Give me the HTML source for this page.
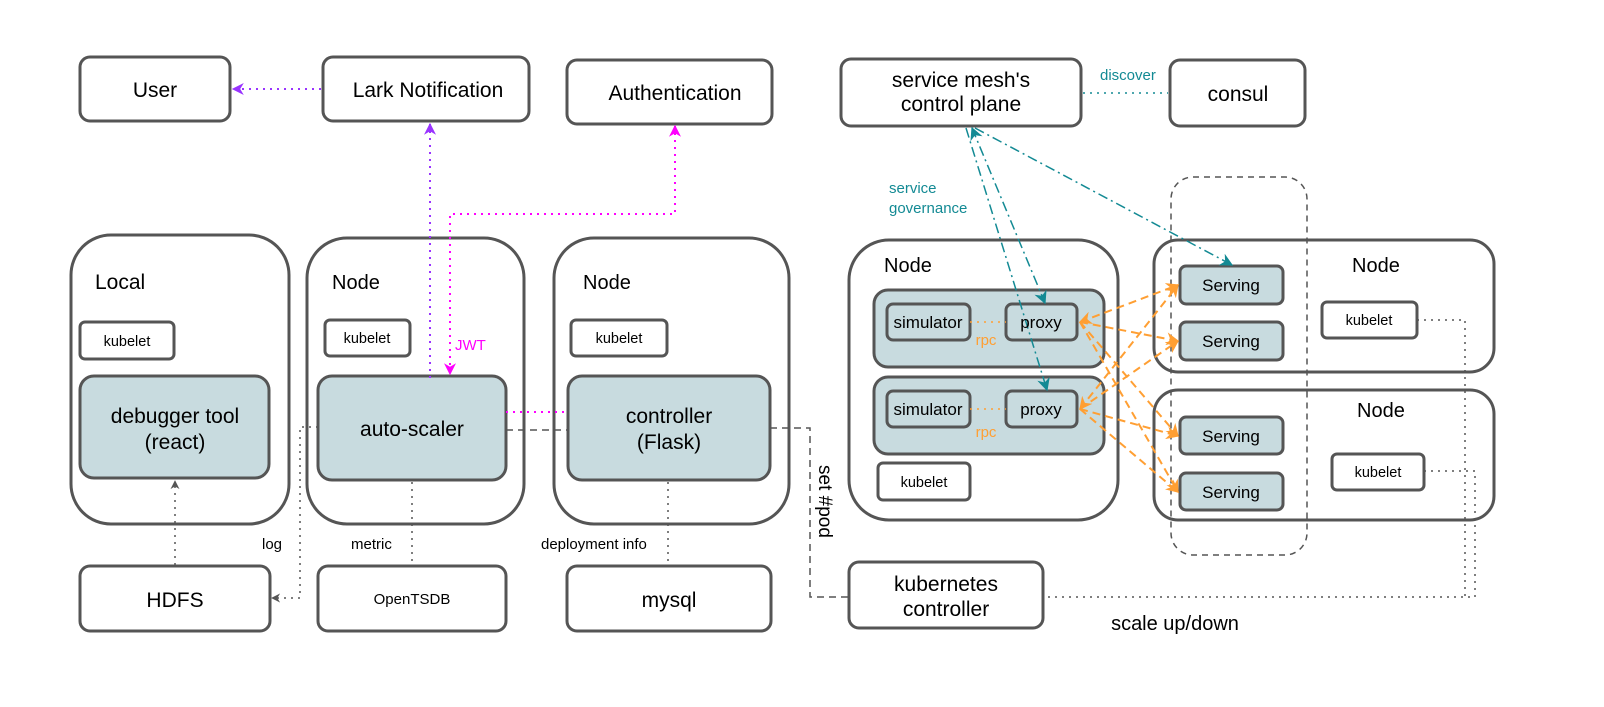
<!DOCTYPE html>
<html><head><meta charset="utf-8"><style>
html,body{margin:0;padding:0;background:#fff;}
svg{display:block;font-family:"Liberation Sans",Arial,sans-serif;}
</style></head><body>
<svg width="1604" height="707" viewBox="0 0 1604 707" xmlns="http://www.w3.org/2000/svg">
<defs>
<marker id="ag" viewBox="0 0 10 10" refX="9" refY="5" markerWidth="9" markerHeight="9" orient="auto-start-reverse" markerUnits="userSpaceOnUse"><path d="M0,0 L10,5 L0,10 L3,5 Z" fill="#555"/></marker>
<marker id="ap" viewBox="0 0 10 10" refX="9" refY="5" markerWidth="12" markerHeight="12" orient="auto-start-reverse" markerUnits="userSpaceOnUse"><path d="M0,0 L10,5 L0,10 L3,5 Z" fill="#9933ff"/></marker>
<marker id="am" viewBox="0 0 10 10" refX="9" refY="5" markerWidth="12" markerHeight="12" orient="auto-start-reverse" markerUnits="userSpaceOnUse"><path d="M0,0 L10,5 L0,10 L3,5 Z" fill="#ff00ff"/></marker>
<marker id="at" viewBox="0 0 10 10" refX="9" refY="5" markerWidth="13" markerHeight="13" orient="auto-start-reverse" markerUnits="userSpaceOnUse"><path d="M0,0 L10,5 L0,10 L3,5 Z" fill="#138a94"/></marker>
<marker id="ao" viewBox="0 0 10 10" refX="9" refY="5" markerWidth="13" markerHeight="13" orient="auto-start-reverse" markerUnits="userSpaceOnUse"><path d="M0,0 L10,5 L0,10 L3,5 Z" fill="#ff9f33"/></marker>
</defs>
<g fill="none" stroke="#555" stroke-width="3">
<rect x="80" y="57" width="150" height="64" rx="10" fill="#fff"/>
<rect x="323" y="57" width="206" height="64" rx="10" fill="#fff"/>
<rect x="567" y="60" width="205" height="64" rx="10" fill="#fff"/>
<rect x="841" y="59" width="240" height="67" rx="10" fill="#fff"/>
<rect x="1170" y="60" width="135" height="66" rx="10" fill="#fff"/>
<rect x="71" y="235" width="218" height="289" rx="40"/>
<rect x="307" y="238" width="217" height="286" rx="40"/>
<rect x="554" y="238" width="235" height="286" rx="40"/>
<rect x="849" y="240" width="269" height="280" rx="40"/>
<rect x="1154" y="240" width="340" height="132" rx="24"/>
<rect x="1154" y="390" width="340" height="130" rx="24"/>
<rect x="80" y="322" width="94" height="37" rx="5"/>
<rect x="325" y="320" width="85" height="36" rx="5"/>
<rect x="571" y="320" width="96" height="36" rx="5"/>
<rect x="878" y="463" width="92" height="37" rx="5"/>
<rect x="1322" y="302" width="95" height="36" rx="5"/>
<rect x="1332" y="454" width="92" height="36" rx="5"/>
<g fill="#c8dbdf">
<rect x="80" y="376" width="189" height="102" rx="14"/>
<rect x="318" y="376" width="188" height="104" rx="14"/>
<rect x="568" y="376" width="202" height="104" rx="14"/>
<rect x="874" y="290" width="230" height="77" rx="14"/>
<rect x="874" y="377" width="230" height="77" rx="14"/>
<rect x="887" y="304" width="83" height="36" rx="6"/>
<rect x="1006" y="304" width="71" height="36" rx="6"/>
<rect x="887" y="391" width="83" height="36" rx="6"/>
<rect x="1006" y="391" width="71" height="36" rx="6"/>
<rect x="1180" y="266" width="103" height="38" rx="6"/>
<rect x="1180" y="322" width="103" height="38" rx="6"/>
<rect x="1180" y="417" width="103" height="37" rx="6"/>
<rect x="1180" y="473" width="103" height="37" rx="6"/>
</g>
<rect x="80" y="566" width="190" height="65" rx="10"/>
<rect x="318" y="566" width="188" height="65" rx="10"/>
<rect x="567" y="566" width="204" height="65" rx="10"/>
<rect x="849" y="562" width="194" height="66" rx="10"/>
</g>
<rect x="1171" y="177" width="136" height="378" rx="22" fill="none" stroke="#555" stroke-width="1.5" stroke-dasharray="6,5"/>
<g fill="none" stroke-width="2" stroke-dasharray="2,5">
<line x1="321" y1="89" x2="233" y2="89" stroke="#9933ff" marker-end="url(#ap)"/>
<line x1="430" y1="378" x2="430" y2="124" stroke="#9933ff" marker-end="url(#ap)"/>
<polyline points="675,126 675,214 450,214 450,374" stroke="#ff00ff" marker-start="url(#am)" marker-end="url(#am)"/>
<line x1="506" y1="412" x2="568" y2="412" stroke="#ff00ff"/>
<line x1="1083" y1="93" x2="1168" y2="93" stroke="#138a94" stroke-width="1.5"/>
<line x1="970" y1="322" x2="1006" y2="322" stroke="#ff9f33" stroke-width="1.5"/>
<line x1="970" y1="409" x2="1006" y2="409" stroke="#ff9f33" stroke-width="1.5"/>
</g>
<g fill="none" stroke="#555" stroke-width="1.5" stroke-dasharray="2,5">
<line x1="175" y1="565" x2="175" y2="481" marker-end="url(#ag)"/>
<polyline points="318,427 300,427 300,598 272,598" marker-end="url(#ag)"/>
<line x1="412" y1="482" x2="412" y2="565"/>
<line x1="668" y1="482" x2="668" y2="565"/>
<polyline points="1417,320 1465,320 1465,597"/>
<polyline points="1424,471 1475,471 1475,597 1043,597"/>
</g>
<g fill="none" stroke="#555" stroke-width="1.5" stroke-dasharray="7,5">
<line x1="506" y1="430" x2="568" y2="430"/>
<polyline points="770,428 810,428 810,597 849,597"/>
</g>
<g fill="none" stroke="#138a94" stroke-width="1.5" stroke-dasharray="10,4,2,4">
<line x1="972" y1="128" x2="1045" y2="303" marker-start="url(#at)" marker-end="url(#at)"/>
<line x1="966" y1="128" x2="1047" y2="390" marker-end="url(#at)"/>
<line x1="975" y1="128" x2="1232" y2="265" marker-end="url(#at)"/>
</g>
<g fill="none" stroke="#ff9f33" stroke-width="2" stroke-dasharray="8,5">
<line x1="1080" y1="322" x2="1178" y2="285" marker-start="url(#ao)" marker-end="url(#ao)"/>
<line x1="1080" y1="322" x2="1178" y2="341" marker-end="url(#ao)"/>
<line x1="1080" y1="322" x2="1178" y2="436" marker-end="url(#ao)"/>
<line x1="1080" y1="322" x2="1178" y2="492" marker-end="url(#ao)"/>
<line x1="1080" y1="409" x2="1178" y2="285" marker-start="url(#ao)" marker-end="url(#ao)"/>
<line x1="1080" y1="409" x2="1178" y2="341" marker-end="url(#ao)"/>
<line x1="1080" y1="409" x2="1178" y2="436" marker-end="url(#ao)"/>
<line x1="1080" y1="409" x2="1178" y2="492" marker-end="url(#ao)"/>
</g>
<g fill="#000" text-anchor="middle" font-size="21">
<text x="155" y="97">User</text>
<text x="428" y="97">Lark Notification</text>
<text x="675" y="100">Authentication</text>
<text x="961" y="87">service mesh's</text>
<text x="961" y="111">control plane</text>
<text x="1238" y="101">consul</text>
<text x="175" y="423">debugger tool</text>
<text x="175" y="449">(react)</text>
<text x="412" y="436">auto-scaler</text>
<text x="669" y="423">controller</text>
<text x="669" y="449">(Flask)</text>
<text x="175" y="607">HDFS</text>
<text x="669" y="607">mysql</text>
<text x="946" y="591">kubernetes</text>
<text x="946" y="616">controller</text>
<text x="1175" y="630" font-size="20">scale up/down</text>
</g>
<g fill="#000" font-size="20">
<text x="95" y="289" font-size="21">Local</text>
<text x="332" y="289">Node</text>
<text x="583" y="289">Node</text>
<text x="884" y="272">Node</text>
<text x="1352" y="272">Node</text>
<text x="1357" y="417">Node</text>
</g>
<g fill="#000" font-size="14.5" text-anchor="middle">
<text x="127" y="346">kubelet</text>
<text x="367" y="343">kubelet</text>
<text x="619" y="343">kubelet</text>
<text x="924" y="487">kubelet</text>
<text x="1369" y="325">kubelet</text>
<text x="1378" y="477">kubelet</text>
<text x="412" y="604" font-size="15">OpenTSDB</text>
</g>
<g fill="#000" font-size="17" text-anchor="middle">
<text x="928" y="328">simulator</text>
<text x="1041" y="328">proxy</text>
<text x="928" y="415">simulator</text>
<text x="1041" y="415">proxy</text>
<text x="1231" y="291">Serving</text>
<text x="1231" y="347">Serving</text>
<text x="1231" y="442">Serving</text>
<text x="1231" y="498">Serving</text>
</g>
<g font-size="15" fill="#000">
<text x="262" y="549">log</text>
<text x="351" y="549">metric</text>
<text x="541" y="549">deployment info</text>
</g>
<text x="986" y="345" font-size="15" fill="#ff9f33" text-anchor="middle">rpc</text>
<text x="986" y="437" font-size="15" fill="#ff9f33" text-anchor="middle">rpc</text>
<text x="455" y="350" font-size="15" fill="#ff00ff">JWT</text>
<text x="1100" y="80" font-size="15" fill="#138a94">discover</text>
<text x="889" y="193" font-size="15" fill="#138a94">service</text>
<text x="889" y="213" font-size="15" fill="#138a94">governance</text>
<text x="0" y="0" font-size="19" fill="#000" transform="translate(819,465) rotate(90)">set #pod</text>
</svg>
</body></html>
